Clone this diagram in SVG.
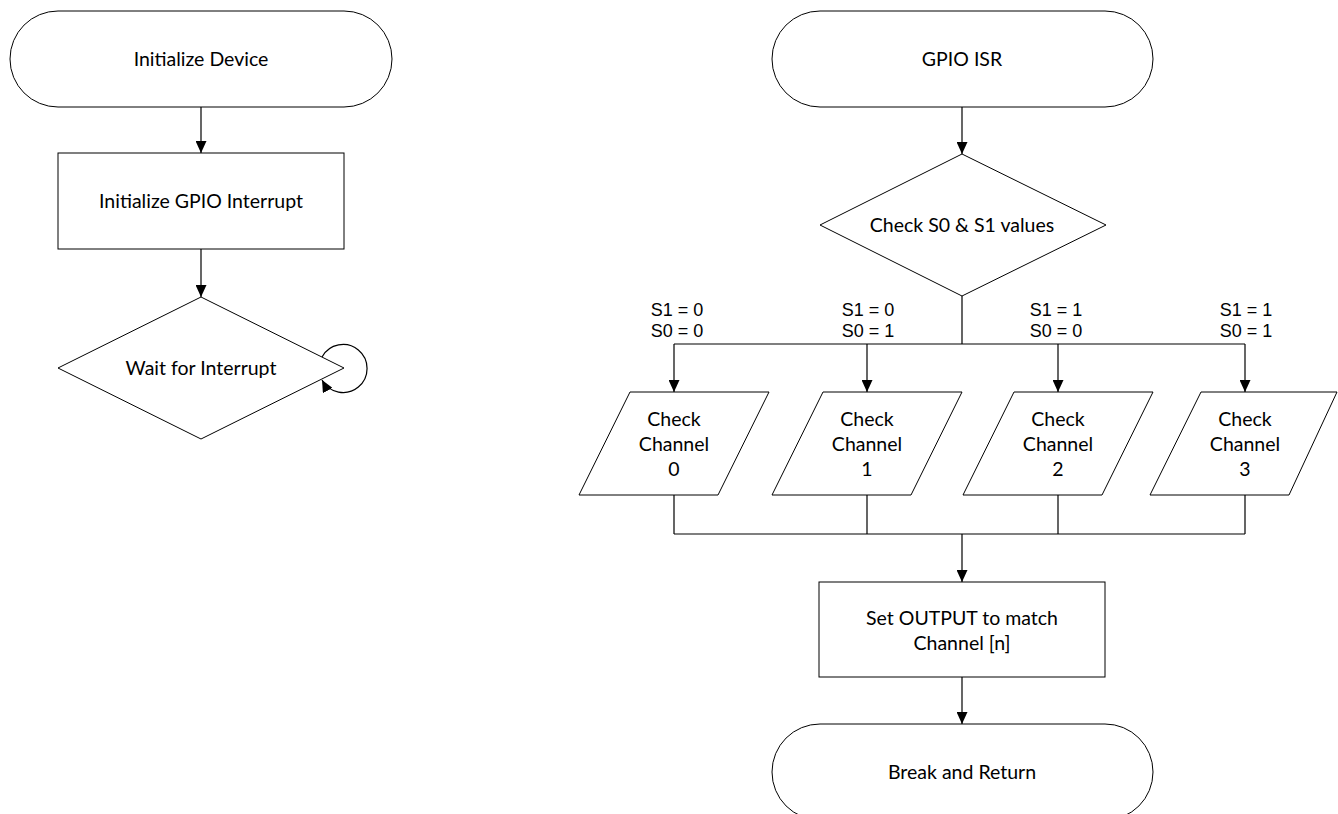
<svg xmlns="http://www.w3.org/2000/svg" width="1338" height="814" viewBox="0 0 1338 814">
<style>
.s{fill:#fff;stroke:#000;stroke-width:1}
.c{fill:none;stroke:#000;stroke-width:1.2}
.t{font-family:Lato,"Liberation Sans",sans-serif;font-size:19.5px;fill:#000;text-anchor:middle}
.l{font-family:"Liberation Sans",Arial,sans-serif;font-size:18px;fill:#000;text-anchor:middle}
</style>
<defs>
<marker id="ah" markerUnits="userSpaceOnUse" viewBox="0 0 12 11" refX="12" refY="5.5" markerWidth="12" markerHeight="11" orient="auto">
<path d="M0,0 L12,5.5 L0,11 z" fill="#000"/>
</marker>
</defs>
<rect width="1338" height="814" fill="#fff"/>
<g id="connectors">
<path class="c" d="M201,107 V153" marker-end="url(#ah)"/>
<path class="c" d="M201,249 V297" marker-end="url(#ah)"/>
<path class="c" d="M322,357 A24,24 0 1 1 322,380" marker-end="url(#ah)"/>
<path class="c" d="M962,107 V154" marker-end="url(#ah)"/>
<path class="c" d="M962,296 V344 M674,344 H1245"/>
<path class="c" d="M674,344 V392" marker-end="url(#ah)"/>
<path class="c" d="M867,344 V392" marker-end="url(#ah)"/>
<path class="c" d="M1058,344 V392" marker-end="url(#ah)"/>
<path class="c" d="M1245,344 V392" marker-end="url(#ah)"/>
<path class="c" d="M674,495 V534 M867,495 V534 M1058,495 V534 M1245,495 V534 M674,534 H1245"/>
<path class="c" d="M962,534 V582" marker-end="url(#ah)"/>
<path class="c" d="M962,677 V724" marker-end="url(#ah)"/>
<text class="l" x="677" y="316">S1 = 0</text>
<text class="l" x="677" y="337">S0 = 0</text>
<text class="l" x="868" y="316">S1 = 0</text>
<text class="l" x="868" y="337">S0 = 1</text>
<text class="l" x="1056" y="316">S1 = 1</text>
<text class="l" x="1056" y="337">S0 = 0</text>
<text class="l" x="1246" y="316">S1 = 1</text>
<text class="l" x="1246" y="337">S0 = 1</text>
</g>
<g id="init-device">
<rect class="s" x="10" y="11" width="382" height="96" rx="48" ry="48"/>
<text class="t" x="201" y="66">Initialize Device</text>
</g>
<g id="init-gpio">
<rect class="s" x="58" y="153" width="286" height="96"/>
<text class="t" x="201" y="208">Initialize GPIO Interrupt</text>
</g>
<g id="wait">
<polygon class="s" points="201,297 344,368 201,439 58,368"/>
<text class="t" x="201" y="375">Wait for Interrupt</text>
</g>
<g id="gpio-isr">
<rect class="s" x="772" y="11" width="381" height="96" rx="48" ry="48"/>
<text class="t" x="962" y="66">GPIO ISR</text>
</g>
<g id="check-s">
<polygon class="s" points="962,154 1106,225 962,296 820,225"/>
<text class="t" x="962" y="232">Check S0 &amp; S1 values</text>
</g>
<g id="ch0">
<polygon class="s" points="630,392 769,392 718,495 579,495"/>
<text class="t" x="674" y="426">Check</text>
<text class="t" x="674" y="451">Channel</text>
<text class="t" x="674" y="476">0</text>
</g>
<g id="ch1">
<polygon class="s" points="823,392 962,392 911,495 772,495"/>
<text class="t" x="867" y="426">Check</text>
<text class="t" x="867" y="451">Channel</text>
<text class="t" x="867" y="476">1</text>
</g>
<g id="ch2">
<polygon class="s" points="1014,392 1153,392 1102,495 963,495"/>
<text class="t" x="1058" y="426">Check</text>
<text class="t" x="1058" y="451">Channel</text>
<text class="t" x="1058" y="476">2</text>
</g>
<g id="ch3">
<polygon class="s" points="1201,392 1337,392 1289,495 1150,495"/>
<text class="t" x="1245" y="426">Check</text>
<text class="t" x="1245" y="451">Channel</text>
<text class="t" x="1245" y="476">3</text>
</g>
<g id="set-output">
<rect class="s" x="819" y="582" width="286" height="95"/>
<text class="t" x="962" y="625">Set OUTPUT to match</text>
<text class="t" x="962" y="650">Channel [n]</text>
</g>
<g id="break-return">
<rect class="s" x="772" y="724" width="381" height="96" rx="48" ry="48"/>
<text class="t" x="962" y="779">Break and Return</text>
</g>
</svg>
